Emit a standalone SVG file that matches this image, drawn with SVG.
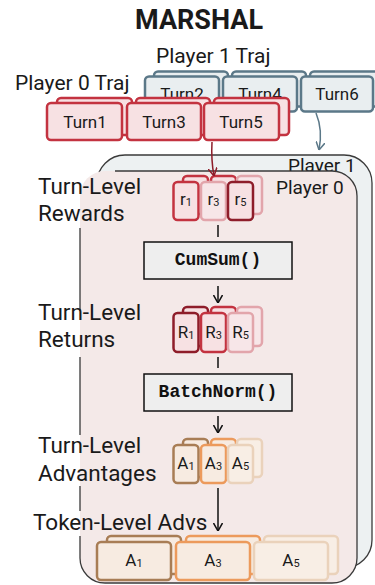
<svg xmlns="http://www.w3.org/2000/svg" width="375" height="585" viewBox="0 0 375 585">
<style>
text{font-family:Roboto,"DejaVu Sans",sans-serif;fill:#1a1a1a}
.title{font-size:27px;font-weight:700;text-anchor:middle}
.lbl{font-size:21px}
.side{font-size:22.5px}
.pl{font-size:19px}
.turn{font-size:17px;text-anchor:middle}
.sym{font-size:17px;text-anchor:middle}
.sub{font-size:11px}
.mono{font-family:"Liberation Mono","Courier New",monospace;font-weight:700;font-size:18px;text-anchor:middle;fill:#111}
.slate{fill:#e9eef0;stroke:#5b7888;stroke-width:2.5}
.red{fill:#f7e1e3;stroke:#c33340;stroke-width:2.5}
.dred{fill:#f7e1e3;stroke:#8e1d2a;stroke-width:2.5}
.pink{fill:#f7e6e8;stroke:#e2a5ab;stroke-width:2.5}
.brown{fill:#f7ebe1;stroke:#a87d55;stroke-width:2.5}
.orange{fill:#f7ebe1;stroke:#ec9a5c;stroke-width:2.5}
.beige{fill:#f8eee5;stroke:#ead2bb;stroke-width:2.5}
.op{fill:#eeeeee;stroke:#111;stroke-width:1.5}
.ln{fill:none;stroke:#111;stroke-width:1.5}
</style>
<defs>
<marker id="ahK" viewBox="0 0 8 10" refX="8" refY="5" markerWidth="8" markerHeight="10" markerUnits="userSpaceOnUse" orient="auto"><path d="M0,0.5 L8,5 L0,9.5" fill="none" stroke="#111" stroke-width="1.5"/></marker>
<marker id="ahR" viewBox="0 0 8 10" refX="8" refY="5" markerWidth="8" markerHeight="10" markerUnits="userSpaceOnUse" orient="auto"><path d="M0,0.5 L8,5 L0,9.5" fill="none" stroke="#8e1d2a" stroke-width="1.5"/></marker>
<marker id="ahS" viewBox="0 0 8 10" refX="8" refY="5" markerWidth="8" markerHeight="10" markerUnits="userSpaceOnUse" orient="auto"><path d="M0,0.5 L8,5 L0,9.5" fill="none" stroke="#5b7888" stroke-width="1.5"/></marker>
</defs>
<rect width="375" height="585" fill="#fff"/>
<text class="title" x="199" y="29">MARSHAL</text>

<g id="panel-player1">
<rect x="97" y="155" width="275" height="413" rx="28" fill="#edf1f2" stroke="#3a3a3a" stroke-width="1.3"/>
<text class="pl" x="288" y="172">Player 1</text>
</g>
<g id="panel-player0">
<rect x="80" y="171" width="277" height="412" rx="25" fill="#f4e9e8"/>
<path d="M115,171 H332 A25,25 0 0 1 357,196 V558 A25,25 0 0 1 332,583 H105 A25,25 0 0 1 80,558 V536 M80,511 V486 M80,435 V357 M80,311 V228" fill="none" stroke="#3a3a3a" stroke-width="1.3"/>
<text class="pl" x="276" y="194">Player 0</text>
</g>

<text class="lbl" x="156" y="63">Player 1 Traj</text>
<text class="lbl" x="15" y="90">Player 0 Traj</text>

<g id="turn2"><rect class="slate" x="154" y="71.5" width="74" height="35" rx="4"/><rect class="slate" x="145" y="76.5" width="74" height="35" rx="4"/><text class="turn" x="182" y="100">Turn2</text></g>
<g id="turn4"><rect class="slate" x="232" y="71.5" width="74" height="35" rx="4"/><rect class="slate" x="223" y="76.5" width="74" height="35" rx="4"/><text class="turn" x="260" y="100">Turn4</text></g>
<g id="turn6"><rect class="slate" x="310" y="71.5" width="74" height="35" rx="4"/><rect class="slate" x="301" y="76.5" width="72" height="35" rx="4"/><text class="turn" x="337" y="100">Turn6</text></g>

<g id="turn1"><rect class="red" x="57" y="98" width="75" height="37" rx="4"/><rect class="red" x="47" y="103" width="75" height="37" rx="4"/><text class="turn" x="85" y="128">Turn1</text></g>
<g id="turn3"><rect class="red" x="136" y="98" width="74" height="37" rx="4"/><rect class="red" x="127" y="103" width="74" height="37" rx="4"/><text class="turn" x="164" y="128">Turn3</text></g>
<g id="turn5"><rect class="red" x="214" y="98" width="75" height="37" rx="4"/><rect class="red" x="204" y="103" width="75" height="37" rx="4"/><text class="turn" x="241" y="128">Turn5</text></g>

<text class="side" x="38" y="194">Turn-Level</text>
<text class="side" x="38" y="221">Rewards</text>
<text class="side" x="38" y="320">Turn-Level</text>
<text class="side" x="38" y="347">Returns</text>
<text class="side" x="38" y="453">Turn-Level</text>
<text class="side" x="38" y="481">Advantages</text>
<text class="side" x="33" y="530">Token-Level Advs</text>

<g id="rewards">
<rect class="red" x="183" y="176" width="25" height="38" rx="4"/><rect class="red" x="173.5" y="182" width="25" height="38" rx="4"/><text class="sym" x="186" y="205">r<tspan class="sub" dy="1">1</tspan></text>
<rect class="red" x="211" y="176" width="25" height="38" rx="4"/><rect class="pink" x="201" y="182" width="25" height="38" rx="4"/><text class="sym" x="213.5" y="205">r<tspan class="sub" dy="1">3</tspan></text>
<rect class="pink" x="237" y="176" width="25" height="38" rx="4"/><rect class="dred" x="228" y="182" width="25" height="38" rx="4"/><text class="sym" x="240.5" y="205">r<tspan class="sub" dy="1">5</tspan></text>
</g>

<g id="cumsum"><rect class="op" x="144" y="242" width="148" height="37"/><text class="mono" x="218" y="265">CumSum()</text></g>

<g id="returns">
<rect class="dred" x="183" y="307" width="25" height="39" rx="4"/><rect class="dred" x="173.5" y="313" width="25" height="39" rx="4"/><text class="sym" x="186" y="338">R<tspan class="sub" dy="1">1</tspan></text>
<rect class="red" x="211" y="307" width="25" height="39" rx="4"/><rect class="red" x="201" y="313" width="25" height="39" rx="4"/><text class="sym" x="213.5" y="338">R<tspan class="sub" dy="1">3</tspan></text>
<rect class="pink" x="237" y="307" width="25" height="39" rx="4"/><rect class="pink" x="228" y="313" width="25" height="39" rx="4"/><text class="sym" x="240.5" y="338">R<tspan class="sub" dy="1">5</tspan></text>
</g>

<g id="batchnorm"><rect class="op" x="144" y="374" width="148" height="37"/><text class="mono" x="218" y="397">BatchNorm()</text></g>

<g id="turn-advs">
<rect class="brown" x="183" y="439" width="25" height="38" rx="4"/><rect class="brown" x="173.5" y="445" width="25" height="38" rx="4"/><text class="sym" x="186" y="469">A<tspan class="sub" dy="1">1</tspan></text>
<rect class="orange" x="211" y="439" width="25" height="38" rx="4"/><rect class="orange" x="201" y="445" width="25" height="38" rx="4"/><text class="sym" x="213.5" y="469">A<tspan class="sub" dy="1">3</tspan></text>
<rect class="beige" x="237" y="439" width="25" height="38" rx="4"/><rect class="beige" x="228" y="445" width="25" height="38" rx="4"/><text class="sym" x="240.5" y="469">A<tspan class="sub" dy="1">5</tspan></text>
</g>

<g id="token-advs">
<rect class="brown" x="107" y="536" width="74" height="38" rx="4"/><rect class="brown" x="97" y="542" width="74" height="38" rx="4"/><text class="sym" x="134" y="566">A<tspan class="sub" dy="1">1</tspan></text>
<rect class="orange" x="186" y="536" width="74" height="38" rx="4"/><rect class="orange" x="176" y="542" width="74" height="38" rx="4"/><text class="sym" x="213" y="566">A<tspan class="sub" dy="1">3</tspan></text>
<rect class="beige" x="264" y="536" width="74" height="38" rx="4"/><rect class="beige" x="254" y="542" width="74" height="38" rx="4"/><text class="sym" x="291" y="566">A<tspan class="sub" dy="1">5</tspan></text>
</g>

<g id="connectors">
<path d="M212,142 Q211,160 214,176" fill="none" stroke="#8e1d2a" stroke-width="1.5" marker-end="url(#ahR)"/>
<path d="M316,113 Q323,130 319,150" fill="none" stroke="#5b7888" stroke-width="1.5" marker-end="url(#ahS)"/>
<line class="ln" x1="218" y1="225" x2="218" y2="237"/>
<line class="ln" x1="218" y1="286" x2="218" y2="303" marker-end="url(#ahK)"/>
<line class="ln" x1="218" y1="357" x2="218" y2="368"/>
<line class="ln" x1="218" y1="416" x2="218" y2="433" marker-end="url(#ahK)"/>
<line class="ln" x1="218" y1="488" x2="218" y2="531" marker-end="url(#ahK)"/>
</g>
</svg>
